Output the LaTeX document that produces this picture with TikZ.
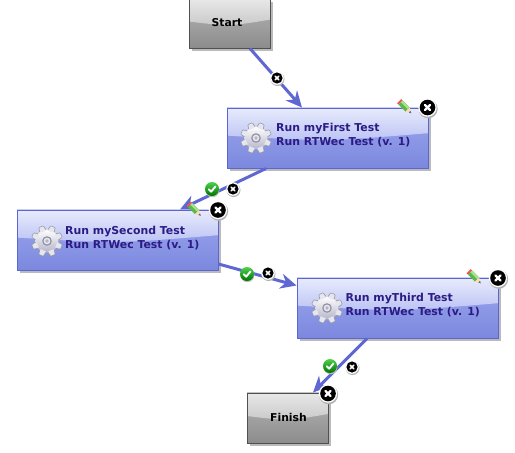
\documentclass[tikz,border=0pt]{standalone}
\usepackage{fontspec}
\setmainfont{DejaVu Sans}
\usetikzlibrary{arrows.meta,shadows,calc}
\definecolor{flowline}{HTML}{5F68D2}
\definecolor{bluetop}{HTML}{E8EBFC}
\definecolor{bluemid}{HTML}{BAC2F4}
\definecolor{bluelow}{HTML}{9DA8EF}
\definecolor{bluebot}{HTML}{7C88DE}
\definecolor{blueedge}{HTML}{5A66D4}
\definecolor{graytop}{HTML}{E8E8E8}
\definecolor{graymid}{HTML}{C8C8C8}
\definecolor{graylow}{HTML}{B6B6B6}
\definecolor{graybot}{HTML}{8C8C8C}
\definecolor{grayedge}{HTML}{505050}
\definecolor{runtext}{HTML}{2B1B85}
\definecolor{gearlight}{HTML}{E6E6F0}
\definecolor{geardark}{HTML}{B4B4C8}
\definecolor{pencilgreen}{HTML}{58B848}
\definecolor{pencillight}{HTML}{A8E090}
\tikzset{
  x=1pt,y=-1pt,
  boxbase/.style={rectangle,inner sep=0pt,line width=1pt,
    drop shadow={shadow xshift=2.5pt,shadow yshift=-3pt,fill=black!27,opacity=1}},
  glass/.style n args={4}{path picture={
    \shade[top color=#3,bottom color=#4]
      (path picture bounding box.south west) rectangle (path picture bounding box.north east);
    \shade[top color=#1,bottom color=#2]
      (path picture bounding box.north west) --
      ($(path picture bounding box.north west)!0.46!(path picture bounding box.south west)$)
      .. controls ($(path picture bounding box.north)!0.56!(path picture bounding box.south)$) ..
      ($(path picture bounding box.north east)!0.42!(path picture bounding box.south east)$) --
      (path picture bounding box.north east) -- cycle;
  }},
  taskbox/.style={boxbase,draw=blueedge,minimum width=201pt,minimum height=60pt,
    glass={bluetop}{bluemid}{bluelow}{bluebot}},
  endbox/.style={boxbase,draw=grayedge,minimum width=81pt,
    glass={graytop}{graymid}{graylow}{graybot}},
  endlabel/.style={font=\bfseries\fontsize{10.8}{12}\selectfont,text=black,inner sep=0pt},
  tasklabel/.style={font=\bfseries\fontsize{10.9}{14}\selectfont,text=runtext,align=left,inner sep=0pt,anchor=west},
  flow/.style={draw=flowline,line width=3pt,-{Stealth[length=16pt,width=15pt]}},
  gearpic/.pic={
    \foreach \a in {0,45,...,315}{
      \begin{scope}[rotate=\a+22.5]
        \fill[draw=black!40,line width=.5pt,fill=geardark,rounded corners=.7pt] (-3.6,-10) -- (3.6,-10) -- (2.5,-15.5) -- (-2.5,-15.5) -- cycle;
      \end{scope}}
    \shade[top color=white,bottom color=geardark] (0,0) circle (11.5);
    \foreach \a in {0,45,...,315}{
      \begin{scope}[rotate=\a+22.5]
        \fill[gearlight] (-2.8,-10) -- (2.8,-10) -- (2,-15) -- (-2,-15) -- cycle;
      \end{scope}}
    \fill[geardark!80!black] (0,0) circle (4.8);
    \fill[gearlight] (0,0) circle (3.4);
    \fill[geardark] (0,0) circle (1.8);
  },
  closebig/.pic={
    \fill[black!30] (.6,1.2) circle (9.6);
    \fill[white] (0,0) circle (9.2);
    \fill[black] (0,0) circle (7.8);
    \draw[white,line width=2.3pt,line cap=round] (-2.6,-2.6) -- (2.6,2.6) (-2.6,2.6) -- (2.6,-2.6);
  },
  closesmall/.pic={
    \fill[black!30] (.5,1) circle (7);
    \fill[white] (0,0) circle (6.8);
    \fill[black] (0,0) circle (5.6);
    \draw[white,line width=1.7pt,line cap=round] (-1.8,-1.8) -- (1.8,1.8) (-1.8,1.8) -- (1.8,-1.8);
  },
  okbadge/.pic={
    \fill[black!25] (.4,1.2) circle (7);
    \shade[top color=green!75!black!70!white,bottom color=green!45!black] (0,0) circle (7);
    \draw[white,line width=1.9pt,line cap=round,line join=round] (-3.3,.2) -- (-.9,2.7) -- (3.4,-2.4);
  },
  pencil/.pic={
    \begin{scope}[rotate=-45]
      \fill[red!70!white] (-9,-2.9) rectangle (-7,2.9);
      \fill[pencilgreen] (-7,-2.9) rectangle (3,2.9);
      \fill[pencillight] (-7,-2.9) rectangle (3,-.4);
      \fill[orange!30!white] (3,-2.9) -- (3,2.9) -- (8,0) -- cycle;
      \fill[black!60] (6,-1.1) -- (6,1.1) -- (8.2,0) -- cycle;
    \end{scope}
  }
}
\begin{document}
\begin{tikzpicture}
\useasboundingbox (0,0) rectangle (515,453);
\fill[white] (0,0) rectangle (515,453);

\node[endbox,minimum height=49pt] (start) at (229.5,23.5) {};
\node[taskbox] (first) at (327.5,138) {};
\node[taskbox] (second) at (117.5,240) {};
\node[taskbox] (third) at (397.5,308) {};
\node[endbox,minimum height=50pt] (finish) at (287.5,418) {};

\foreach \n in {first,second,third}
  \draw[bluetop!80!blueedge,line width=1pt] (\n.north west) -- (\n.north east);
\draw[graytop!85!black,line width=1pt] (finish.north west) -- (finish.north east);

\pic at (256,138) {gearpic};
\pic at (47,241) {gearpic};
\pic at (327,308) {gearpic};

\node[endlabel] (startlabel) at (227,22.5) {Start};
\node[endlabel] (finishlabel) at (288.5,417) {Finish};
\node[tasklabel] (firstlabel) at (276,135.5) {Run myFirst Test\\Run RTWec Test (v. 1)};
\node[tasklabel] (secondlabel) at (65,238) {Run mySecond Test\\Run RTWec Test (v. 1)};
\node[tasklabel] (thirdlabel) at (345.5,305.5) {Run myThird Test\\Run RTWec Test (v. 1)};

\draw[flow] ([xshift=20.5pt]start.south) -- ([xshift=-25.5pt]first.north);
\draw[flow] ([xshift=-61.5pt]first.south) -- ([xshift=62.5pt]second.north);
\draw[flow] ([yshift=-24pt]second.east) -- ([yshift=22.5pt]third.west);
\draw[flow] ([xshift=-30.5pt]third.south) -- ([xshift=25.5pt]finish.north);

\pic at (277,78) {closesmall};
\pic at (233,189) {closesmall};
\pic at (268,273) {closesmall};
\pic at (352,367) {closesmall};
\pic at (212,189) {okbadge};
\pic at (247,274) {okbadge};
\pic at (330,366) {okbadge};
\pic at (405.5,107.5) {pencil};
\pic at (195,210) {pencil};
\pic at (475,277.5) {pencil};
\pic at (427.5,107.5) {closebig};
\pic at (218,210) {closebig};
\pic at (498,278) {closebig};
\pic at (328,393.5) {closebig};
\end{tikzpicture}
\end{document}
